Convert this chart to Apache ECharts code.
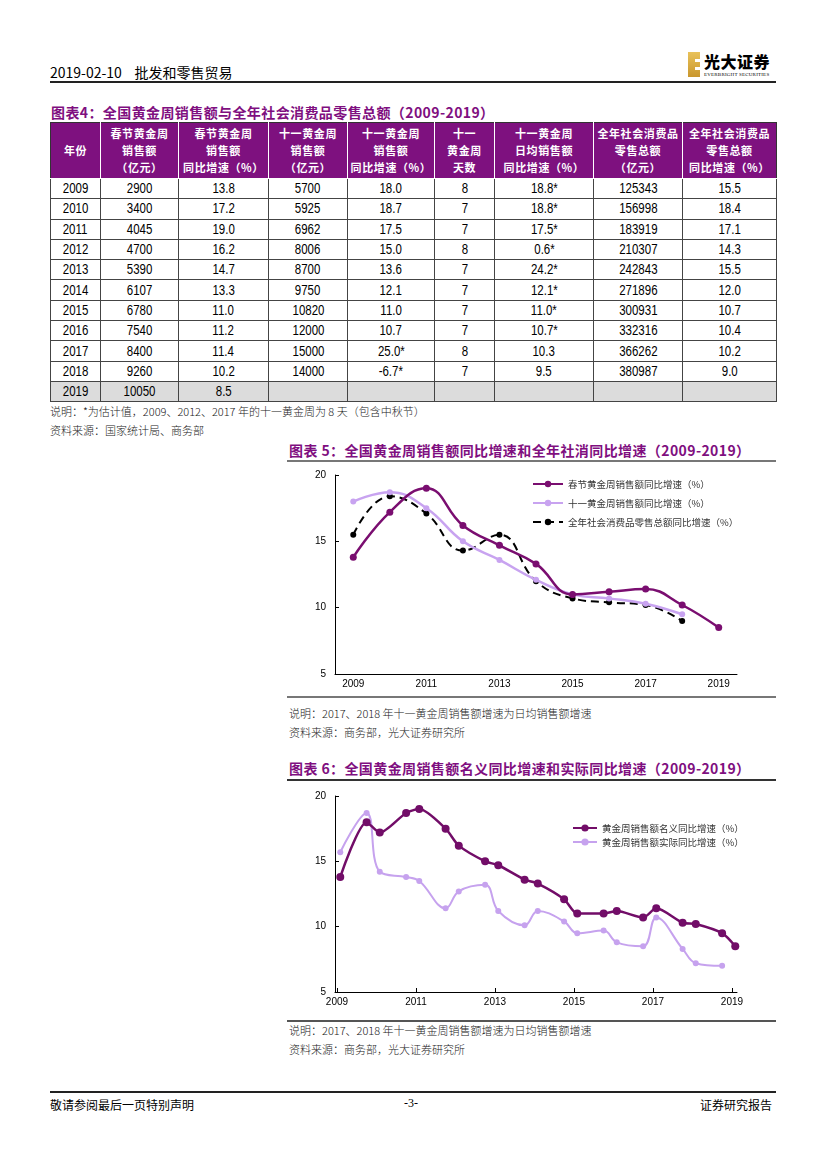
<!DOCTYPE html>
<html>
<head>
<meta charset="utf-8">
<script src="https://cdn.jsdelivr.net/npm/echarts@6/dist/echarts.min.js"></script>
<style>
  html,body{margin:0;padding:0;background:#fff;}
  body{width:827px;height:1169px;position:relative;overflow:hidden;font-family:"Noto Sans CJK SC","Noto Sans",sans-serif;color:#000;}
  .abs{position:absolute;white-space:nowrap;}
  .title{font-size:14px;font-weight:bold;color:#7F0F80;letter-spacing:0.4px;}
  .note{font-size:11px;color:#222;font-weight:300;}
  .hr{position:absolute;}
  table.t{position:absolute;left:50px;top:122px;width:726px;border-collapse:collapse;table-layout:fixed;}
  table.t th{background:#7E117F;color:#fff;font-size:11px;font-weight:bold;line-height:17px;height:55px;padding:0;border:1px solid #fff;border-top:1px solid #333;letter-spacing:0.6px;}
  table.t th:first-child{border-left:1px solid #333;}
  table.t th:last-child{border-right:1px solid #333;}
  table.t td{font-family:"Liberation Sans",Arial,sans-serif;font-size:14px;text-align:center;height:19.3px;padding:0;border:1px solid #444;line-height:19px;}
  table.t td span{display:inline-block;transform:scaleX(0.82);}
  table.t tr.last td{background:#DCDCDC;}
</style>
</head>
<body>
<script>
// ---------------- data ----------------
const years = [2009, 2010, 2011, 2012, 2013, 2014, 2015, 2016, 2017, 2018, 2019];
const springSales = ['2900','3400','4045','4700','5390','6107','6780','7540','8400','9260','10050'];
const springYoY = ['13.8','17.2','19.0','16.2','14.7','13.3','11.0','11.2','11.4','10.2','8.5'];
const octSales = ['5700','5925','6962','8006','8700','9750','10820','12000','15000','14000',''];
const octYoY = ['18.0','18.7','17.5','15.0','13.6','12.1','11.0','10.7','25.0*','-6.7*',''];
const octDays = ['8','7','7','8','7','7','7','7','8','7',''];
const octDailyYoY = ['18.8*','18.8*','17.5*','0.6*','24.2*','12.1*','11.0*','10.7*','10.3','9.5',''];
const retailSales = ['125343','156998','183919','210307','242843','271896','300931','332316','366262','380987',''];
const retailYoY = ['15.5','18.4','17.1','14.3','15.5','12.0','10.7','10.4','10.2','9.0',''];
const tableHeaders = [
  ['年份'],
  ['春节黄金周','销售额','（亿元）'],
  ['春节黄金周','销售额','同比增速（%）'],
  ['十一黄金周','销售额','（亿元）'],
  ['十一黄金周','销售额','同比增速（%）'],
  ['十一','黄金周','天数'],
  ['十一黄金周','日均销售额','同比增速（%）'],
  ['全年社会消费品','零售总额','（亿元）'],
  ['全年社会消费品','零售总额','同比增速（%）']
];
// chart 5 series
const chart5Spring = [13.8, 17.2, 19.0, 16.2, 14.7, 13.3, 11.0, 11.2, 11.4, 10.2, 8.5];
const chart5Oct = [18.0, 18.7, 17.5, 15.0, 13.6, 12.1, 11.0, 10.7, 10.3, 9.5];
const chart5Retail = [15.5, 18.4, 17.1, 14.3, 15.5, 12.0, 10.7, 10.4, 10.2, 9.0];
const chart5Names = ['春节黄金周销售额同比增速（%）','十一黄金周销售额同比增速（%）','全年社会消费品零售总额同比增速（%）'];
// chart 6 series
const weekDates = ['2009-02','2009-10','2010-02','2010-10','2011-02','2011-10','2012-02','2012-10','2013-02','2013-10','2014-02','2014-10','2015-02','2015-10','2016-02','2016-10','2017-02','2017-10','2018-02','2018-10','2019-02'];
const nominalYoY = [13.8, 18.0, 17.2, 18.7, 19.0, 17.5, 16.2, 15.0, 14.7, 13.6, 13.3, 12.1, 11.0, 11.0, 11.2, 10.7, 11.4, 10.3, 10.2, 9.5, 8.5];
const realYoY = [15.7, 18.7, 14.2, 13.8, 13.5, 11.4, 12.7, 13.2, 11.2, 10.1, 11.2, 10.4, 9.5, 9.7, 8.8, 8.5, 10.7, 8.3, 7.2, 7.0];
const chart6Names = ['黄金周销售额名义同比增速（%）','黄金周销售额实际同比增速（%）'];
const xTickYears = [2009, 2011, 2013, 2015, 2017, 2019];
</script>

<!-- header -->
<div class="abs" style="left:50px;top:62px;font-size:14px;">2019-02-10&nbsp;&nbsp;&nbsp;&nbsp;批发和零售贸易</div>
<div class="hr" style="left:50px;top:81px;width:726px;height:1.5px;background:#222;"></div>
<div class="abs" style="left:688px;top:52px;width:12px;height:25px;background:linear-gradient(180deg,#E9C25A,#C9972E);"></div>
<div class="abs" style="left:695px;top:59px;width:5px;height:3px;background:#fff;"></div>
<div class="abs" style="left:695px;top:67px;width:5px;height:3px;background:#fff;"></div>
<div class="abs" style="left:704px;top:49px;font-size:16px;font-weight:900;letter-spacing:0.5px;">光大证券</div>
<div class="abs" style="left:704px;top:72px;font-size:5px;font-family:'Liberation Serif',serif;letter-spacing:0.2px;">EVERBRIGHT SECURITIES</div>

<!-- table 4 -->
<div class="abs title" style="left:51px;top:102px;">图表4：全国黄金周销售额与全年社会消费品零售总额（2009-2019）</div>
<table class="t" id="tbl"></table>
<div class="abs note" style="left:50px;top:403px;">说明：*为估计值，2009、2012、2017 年的十一黄金周为 8 天（包含中秋节）</div>
<div class="abs note" style="left:50px;top:422px;">资料来源：国家统计局、商务部</div>

<!-- chart 5 -->
<div class="abs title" style="left:289px;top:440px;">图表 5：全国黄金周销售额同比增速和全年社消同比增速（2009-2019）</div>
<div class="hr" style="left:287px;top:460px;width:489px;height:2px;background:#777;"></div>
<div id="c5" style="position:absolute;left:280px;top:465px;width:500px;height:228px;"></div>
<div class="hr" style="left:287px;top:696px;width:489px;height:2px;background:#777;"></div>
<div class="abs note" style="left:289px;top:705px;">说明：2017、2018 年十一黄金周销售额增速为日均销售额增速</div>
<div class="abs note" style="left:289px;top:724px;">资料来源：商务部，光大证券研究所</div>

<!-- chart 6 -->
<div class="abs title" style="left:289px;top:758px;">图表 6：全国黄金周销售额名义同比增速和实际同比增速（2009-2019）</div>
<div class="hr" style="left:287px;top:779px;width:489px;height:2px;background:#333;"></div>
<div id="c6" style="position:absolute;left:280px;top:785px;width:500px;height:228px;"></div>
<div class="hr" style="left:287px;top:1020px;width:489px;height:2px;background:#555;"></div>
<div class="abs note" style="left:289px;top:1022px;">说明：2017、2018 年十一黄金周销售额增速为日均销售额增速</div>
<div class="abs note" style="left:289px;top:1041px;">资料来源：商务部，光大证券研究所</div>

<!-- footer -->
<div class="hr" style="left:50px;top:1091px;width:726px;height:1.5px;background:#222;"></div>
<div class="abs" style="left:50px;top:1096px;font-size:12px;">敬请参阅最后一页特别声明</div>
<div class="abs" style="left:404px;top:1096px;font-size:12px;font-family:'Liberation Serif',serif;">-3-</div>
<div class="abs" style="left:700px;top:1096px;font-size:12px;">证券研究报告</div>

<script>
// build table
(function(){
  const widths = [50,78,90,79,87,60,99,89,94];
  const tbl = document.getElementById('tbl');
  let html = '<colgroup>' + widths.map(w => '<col style="width:' + w + 'px">').join('') + '</colgroup>';
  html += '<tr>' + tableHeaders.map(h => '<th>' + h.join('<br>') + '</th>').join('') + '</tr>';
  years.forEach((y, i) => {
    const cells = [y, springSales[i], springYoY[i], octSales[i], octYoY[i], octDays[i], octDailyYoY[i], retailSales[i], retailYoY[i]];
    html += '<tr' + (i === years.length - 1 ? ' class="last"' : '') + '>' + cells.map(c => '<td><span>' + c + '</span></td>').join('') + '</tr>';
  });
  tbl.innerHTML = html;
})();

const axisFont = {color:'#000', fontSize:10, fontFamily:'Liberation Sans, Arial, sans-serif'};

// chart 5
const c5 = echarts.init(document.getElementById('c5'));
c5.setOption({
  animation:false,
  grid:{left:55, top:10, width:402, height:199},
  legend:{
    orient:'vertical', left:247, top:7, itemWidth:30, itemHeight:8, itemGap:5,
    textStyle:{fontSize:9.5, color:'#333', fontFamily:'Noto Sans CJK SC', lineHeight:14},
    data:chart5Names
  },
  xAxis:{
    type:'category', data:years.map(String), boundaryGap:true,
    axisLine:{lineStyle:{color:'#000', width:1}},
    axisTick:{inside:true, interval:0, length:4, lineStyle:{color:'#000'}},
    axisLabel:Object.assign({interval:1, margin:5}, axisFont)
  },
  yAxis:{
    type:'value', min:5, max:20, interval:5,
    axisLine:{show:true, lineStyle:{color:'#000', width:1}},
    axisTick:{show:true, inside:true, length:4, lineStyle:{color:'#000'}},
    splitLine:{show:false},
    axisLabel:Object.assign({margin:9}, axisFont)
  },
  series:[
    {name:chart5Names[2], type:'line', data:chart5Retail, smooth:0.45, symbol:'circle', symbolSize:6,
     itemStyle:{color:'#000'}, lineStyle:{color:'#000', width:2, type:[8,5]}, z:3},
    {name:chart5Names[1], type:'line', data:chart5Oct, smooth:0.45, symbol:'circle', symbolSize:6,
     itemStyle:{color:'#C8A3F0'}, lineStyle:{color:'#C8A3F0', width:2.5}, z:4},
    {name:chart5Names[0], type:'line', data:chart5Spring, smooth:0.45, symbol:'circle', symbolSize:7,
     itemStyle:{color:'#7A0E70'}, lineStyle:{color:'#7A0E70', width:2.5}, z:5}
  ]
});

// chart 6
function toYear(s){ const p = s.split('-'); return (+p[0]) + (+p[1] - 1) / 12; }
const c6 = echarts.init(document.getElementById('c6'));
c6.setOption({
  animation:false,
  grid:{left:55, top:11, width:402, height:196},
  legend:{
    orient:'vertical', left:287, top:31, itemWidth:24, itemHeight:9, itemGap:0,
    textStyle:{fontSize:9.5, color:'#333', fontFamily:'Noto Sans CJK SC', lineHeight:14},
    data:chart6Names
  },
  xAxis:{
    type:'value', min:2008.95, max:2019.127,
    axisLine:{lineStyle:{color:'#000', width:1}},
    axisTick:{show:true, inside:true, length:4, customValues:xTickYears, lineStyle:{color:'#000'}},
    axisLabel:Object.assign({margin:5, customValues:xTickYears, formatter:v => String(Math.round(v))}, axisFont),
    splitLine:{show:false}
  },
  yAxis:{
    type:'value', min:5, max:20, interval:5,
    axisLine:{show:true, lineStyle:{color:'#000', width:1}},
    axisTick:{show:true, inside:true, length:4, lineStyle:{color:'#000'}},
    splitLine:{show:false},
    axisLabel:Object.assign({margin:9}, axisFont)
  },
  series:[
    {name:chart6Names[1], type:'line', data:realYoY.map((v,i) => [toYear(weekDates[i]), v]), smooth:0.4,
     symbol:'circle', symbolSize:6, itemStyle:{color:'#C6A2EE'}, lineStyle:{color:'#C6A2EE', width:2}, z:3},
    {name:chart6Names[0], type:'line', data:nominalYoY.map((v,i) => [toYear(weekDates[i]), v]), smooth:0.25,
     symbol:'circle', symbolSize:8, itemStyle:{color:'#720D68'}, lineStyle:{color:'#720D68', width:2.5}, z:4}
  ]
});
</script>
</body>
</html>
